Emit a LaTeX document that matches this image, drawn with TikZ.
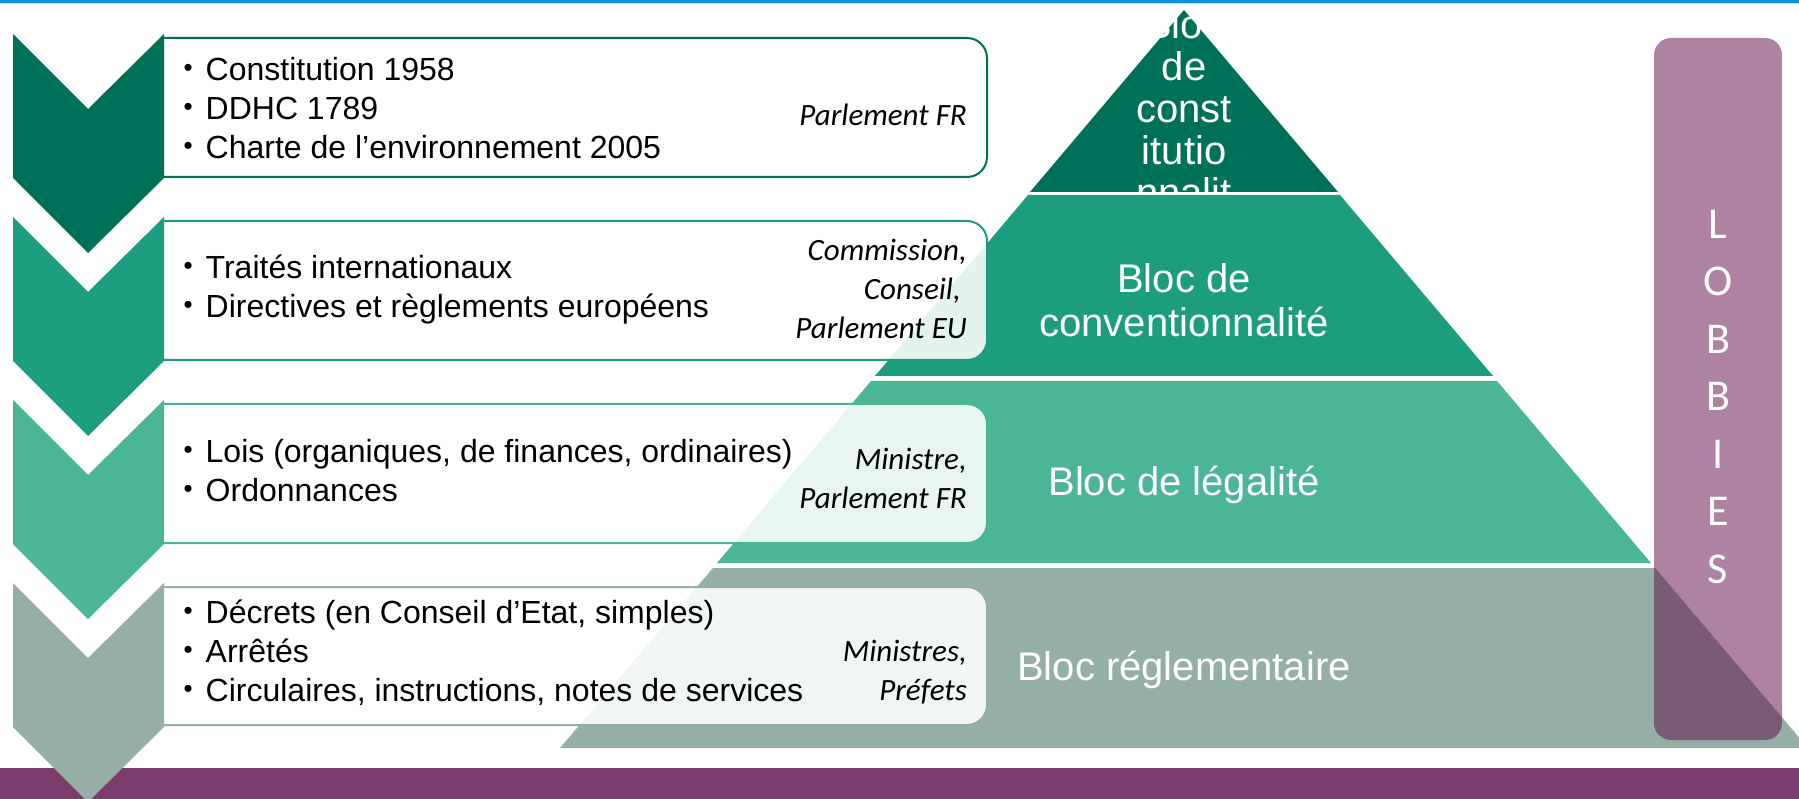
\documentclass[tikz,border=0pt]{standalone}
\usepackage{fontspec}
\setmainfont{Liberation Sans}
\newfontfamily\calib{Carlito}
\definecolor{blocA}{RGB}{0,113,89}
\definecolor{blocB}{RGB}{28,158,126}
\definecolor{blocC}{RGB}{74,181,151}
\definecolor{blocD}{RGB}{148,176,166}
\definecolor{bandeviolet}{RGB}{124,61,110}
\definecolor{lobbyviolet}{RGB}{97,10,72}
\definecolor{bleuhaut}{RGB}{8,143,208}
\newcommand{\puce}{\makebox[22pt][l]{\raisebox{4pt}{\fontsize{26}{26}\selectfont\textbullet}}}
\begin{document}
\begin{tikzpicture}[x=1pt, y=-1pt,
    cadre/.style={draw=#1, line width=2pt, fill=white, fill opacity=0.88, rounded corners=20pt},
    liste/.style={anchor=west, inner sep=0pt, align=left, font=\fontsize{32}{39}\selectfont},
    auteur/.style={anchor=east, inner sep=0pt, align=right, font=\calib\itshape\fontsize{31}{39}\selectfont},
    bloc/.style={inner sep=0pt, align=center, text=white, font=\fontsize{40}{44}\selectfont},
    lettre/.style={inner sep=0pt, text=white, font=\calib\fontsize{44}{44}\selectfont}]
    \useasboundingbox (0,0) rectangle (1799,799);
    \clip (0,0) rectangle (1799,799);
    % bandeaux
    \fill[bleuhaut] (0,0) rectangle (1799,3.3);
    \fill[bleuhaut!25] (0,3.3) rectangle (1799,4.5);
    \fill[bandeviolet] (0,768) rectangle (1799,799);
    % pyramide
    \fill[blocA] (1184,10) -- (1338,192) -- (1030,192) -- cycle;
    \node[bloc, anchor=north, font=\fontsize{40}{42}\selectfont] (blocA) at (1184,9)
        {Bloc\\de\\const\\itutio\\nnalit\\é};
    \fill[blocB] (1028,195) -- (1340,195) -- (1493,376) -- (875,376) -- cycle;
    \fill[blocC] (871,381) -- (1497,381) -- (1651,563) -- (717,563) -- cycle;
    \fill[blocD] (713,568) -- (1655,568) -- (1808,748) -- (560,748) -- cycle;
    \node[bloc] (blocB) at (1184,300) {Bloc de\\conventionnalité};
    \node[bloc] (blocC) at (1184,485) {Bloc de légalité};
    \node[bloc] (blocD) at (1184,670) {Bloc réglementaire};
    % cadres
    \begin{scope}
        \clip (164,0) rectangle (1000,799);
        \draw[cadre=blocA] (130,38) rectangle (987,177);
        \draw[cadre=blocB] (130,221) rectangle (987,360);
        \draw[cadre=blocC] (130,404) rectangle (987,543);
        \draw[cadre=blocD] (130,587) rectangle (987,725);
    \end{scope}
    % chevrons
    \fill[blocA] (13,34) -- (88,109) -- (164,34) -- (164,178) -- (88,253) -- (13,178) -- cycle;
    \fill[blocB] (13,217) -- (88,292) -- (164,217) -- (164,361) -- (88,436) -- (13,361) -- cycle;
    \fill[blocC] (13,400) -- (88,475) -- (164,400) -- (164,544) -- (88,619) -- (13,544) -- cycle;
    \fill[blocD] (13,583) -- (88,658) -- (164,583) -- (164,727) -- (88,802) -- (13,727) -- cycle;
    % textes
    \node[liste] (listeA) at (183.5,108) {\puce Constitution 1958\\ \puce DDHC 1789\\ \puce Charte de l’environnement 2005};
    \node[auteur] (auteurA) at (967,115) {Parlement FR};
    \node[liste] (listeB) at (183.5,290) {\puce Traités internationaux\\ \puce Directives et règlements européens};
    \node[auteur] (auteurB) at (967,289) {Commission,\\Conseil,\kern6pt\\Parlement EU};
    \node[liste] (listeC) at (183.5,471) {\puce Lois (organiques, de finances, ordinaires)\\ \puce Ordonnances};
    \node[auteur] (auteurC) at (967,478) {Ministre,\\Parlement FR};
    \node[liste] (listeD) at (183.5,653) {\puce Décrets (en Conseil d’Etat, simples)\\ \puce Arrêtés\\ \puce Circulaires, instructions, notes de services};
    \node[auteur] (auteurD) at (967,672) {Ministres,\\Préfets};
    % lobbies
    \fill[lobbyviolet, fill opacity=0.51, rounded corners=17pt] (1654,38) rectangle (1782,740);
    \node[lettre] (lobL) at (1718,224) {L};
    \node[lettre] (lobO) at (1718,281.5) {O};
    \node[lettre] (lobB) at (1718,339) {B};
    \node[lettre] (lobBB) at (1718,396.5) {B};
    \node[lettre] (lobI) at (1718,454) {I};
    \node[lettre] (lobE) at (1718,511.5) {E};
    \node[lettre] (lobS) at (1718,569) {S};
\end{tikzpicture}
\end{document}
